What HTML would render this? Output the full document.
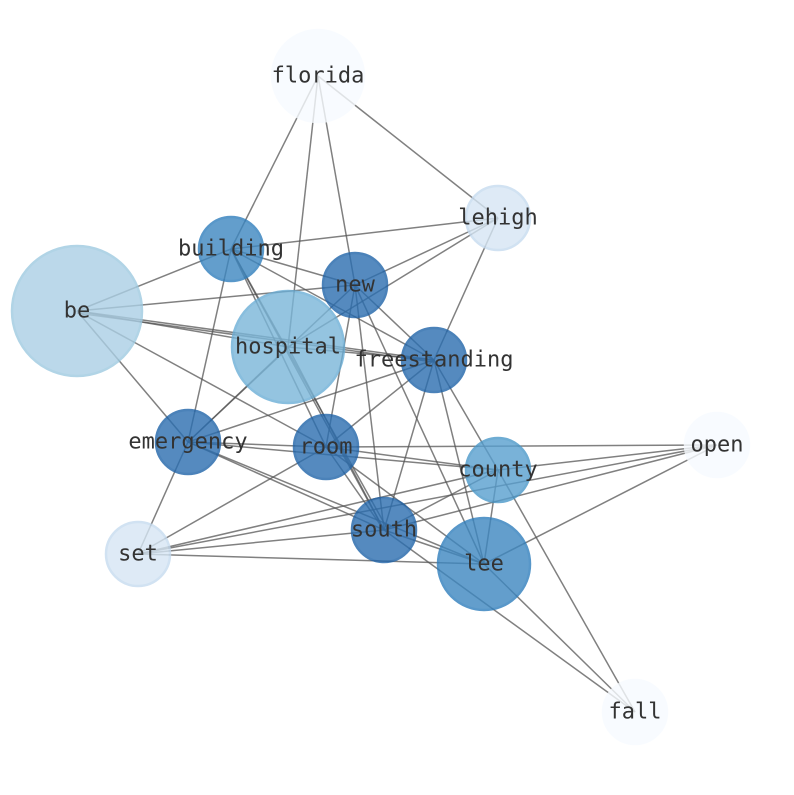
<!DOCTYPE html>
<html><head><meta charset="utf-8"><style>html,body{margin:0;padding:0;background:#fff}</style></head>
<body>
<svg width="794" height="790" viewBox="0 0 794 790" xmlns="http://www.w3.org/2000/svg">
<g stroke="#555" stroke-width="1.5" stroke-opacity="0.75" fill="none">
<line x1="318" y1="76" x2="231" y2="249"/>
<line x1="318" y1="76" x2="288" y2="347"/>
<line x1="318" y1="76" x2="355" y2="285"/>
<line x1="318" y1="76" x2="498" y2="218"/>
<line x1="498" y1="218" x2="231" y2="249"/>
<line x1="498" y1="218" x2="355" y2="285"/>
<line x1="498" y1="218" x2="288" y2="347"/>
<line x1="498" y1="218" x2="434" y2="360"/>
<line x1="77" y1="311" x2="231" y2="249"/>
<line x1="77" y1="311" x2="355" y2="285"/>
<line x1="77" y1="311" x2="288" y2="347"/>
<line x1="77" y1="311" x2="434" y2="360"/>
<line x1="77" y1="313" x2="434" y2="362"/>
<line x1="77" y1="311" x2="188" y2="442"/>
<line x1="77" y1="311" x2="326" y2="447"/>
<line x1="231" y1="249" x2="188" y2="442"/>
<line x1="231" y1="249" x2="355" y2="285"/>
<line x1="231" y1="249" x2="434" y2="360"/>
<line x1="231" y1="249" x2="326" y2="447"/>
<line x1="231" y1="249" x2="384" y2="530"/>
<line x1="231" y1="249" x2="388" y2="530"/>
<line x1="355" y1="285" x2="188" y2="442"/>
<line x1="355" y1="285" x2="434" y2="360"/>
<line x1="355" y1="285" x2="326" y2="447"/>
<line x1="355" y1="285" x2="384" y2="530"/>
<line x1="355" y1="285" x2="484" y2="564"/>
<line x1="288" y1="347" x2="188" y2="442"/>
<line x1="288" y1="347" x2="434" y2="360"/>
<line x1="288" y1="347" x2="384" y2="530"/>
<line x1="434" y1="360" x2="188" y2="442"/>
<line x1="434" y1="360" x2="326" y2="447"/>
<line x1="434" y1="360" x2="384" y2="530"/>
<line x1="434" y1="360" x2="484" y2="564"/>
<line x1="434" y1="360" x2="498" y2="470"/>
<line x1="188" y1="442" x2="326" y2="447"/>
<line x1="188" y1="442" x2="498" y2="470"/>
<line x1="188" y1="442" x2="384" y2="530"/>
<line x1="188" y1="442" x2="484" y2="564"/>
<line x1="188" y1="442" x2="138" y2="554"/>
<line x1="326" y1="447" x2="717" y2="445"/>
<line x1="326" y1="447" x2="498" y2="470"/>
<line x1="326" y1="447" x2="138" y2="554"/>
<line x1="326" y1="447" x2="384" y2="530"/>
<line x1="326" y1="447" x2="484" y2="564"/>
<line x1="498" y1="470" x2="138" y2="554"/>
<line x1="498" y1="470" x2="384" y2="530"/>
<line x1="498" y1="470" x2="717" y2="445"/>
<line x1="498" y1="470" x2="484" y2="564"/>
<line x1="498" y1="470" x2="635" y2="712"/>
<line x1="717" y1="445" x2="138" y2="554"/>
<line x1="717" y1="445" x2="384" y2="530"/>
<line x1="717" y1="445" x2="484" y2="564"/>
<line x1="138" y1="554" x2="384" y2="530"/>
<line x1="138" y1="554" x2="484" y2="564"/>
<line x1="384" y1="530" x2="484" y2="564"/>
<line x1="384" y1="530" x2="635" y2="712"/>
<line x1="484" y1="564" x2="635" y2="712"/>
</g>
<g stroke-width="2.5" opacity="0.8">
<circle cx="318" cy="76" r="46" fill="#f7fbff" stroke="#f7fbff"/>
<circle cx="498" cy="218" r="32" fill="#d6e6f4" stroke="#c6dbef"/>
<circle cx="717" cy="445" r="32" fill="#f7fbff" stroke="#f7fbff"/>
<circle cx="635" cy="712" r="32" fill="#f7fbff" stroke="#f7fbff"/>
<circle cx="138" cy="554" r="32" fill="#d6e6f4" stroke="#c6dbef"/>
<circle cx="77" cy="311" r="65" fill="#abcfe5" stroke="#9ecae1"/>
<circle cx="288" cy="347" r="56" fill="#7ab6d9" stroke="#6baed6"/>
<circle cx="231" cy="249" r="32" fill="#3d87c0" stroke="#2f7ebc"/>
<circle cx="355" cy="285" r="32" fill="#2b6eb0" stroke="#1f63a8"/>
<circle cx="434" cy="360" r="32" fill="#2b6eb0" stroke="#1f63a8"/>
<circle cx="188" cy="442" r="32" fill="#2b6eb0" stroke="#1f63a8"/>
<circle cx="326" cy="447" r="32" fill="#2b6eb0" stroke="#1f63a8"/>
<circle cx="384" cy="530" r="32" fill="#2b6eb0" stroke="#1f63a8"/>
<circle cx="498" cy="470" r="32" fill="#589fcf" stroke="#4a98c9"/>
<circle cx="484" cy="564" r="46" fill="#3d87c0" stroke="#2f7ebc"/>
</g>
<g font-family="'DejaVu Sans Mono','Liberation Mono',monospace" font-size="22" fill="#333" text-anchor="middle" dominant-baseline="central">
<text x="318" y="76">florida</text>
<text x="498" y="218">lehigh</text>
<text x="231" y="249">building</text>
<text x="355" y="285">new</text>
<text x="77" y="311">be</text>
<text x="288" y="347">hospital</text>
<text x="434" y="360">freestanding</text>
<text x="188" y="442">emergency</text>
<text x="326" y="447">room</text>
<text x="717" y="445">open</text>
<text x="498" y="470">county</text>
<text x="138" y="554">set</text>
<text x="384" y="530">south</text>
<text x="484" y="564">lee</text>
<text x="635" y="712">fall</text>
</g>
</svg>
</body></html>
